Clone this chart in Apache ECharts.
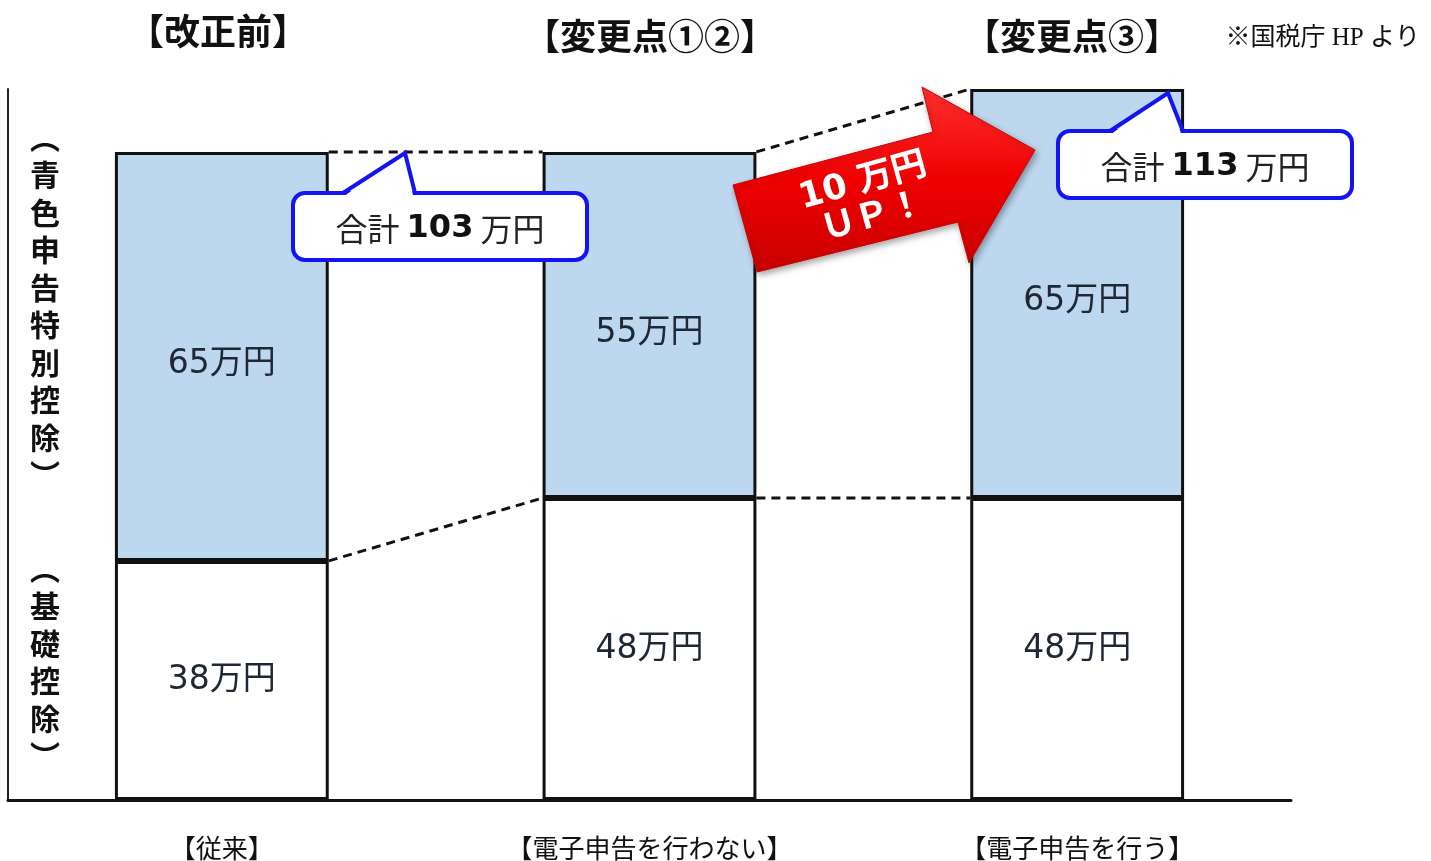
<!DOCTYPE html>
<html>
<head>
<meta charset="utf-8">
<script src="https://cdn.jsdelivr.net/npm/echarts@6/dist/echarts.min.js"></script>
<style>
html, body { margin: 0; padding: 0; background: #fff; }
#main { width: 1431px; height: 861px; }
</style>
</head>
<body>
<div id="main"></div>
<script>
var categories = ['【従来】', '【電子申告を行わない】', '【電子申告を行う】'];
var headings = ['【改正前】', '【変更点①②】', '【変更点③】'];
var basicDeduction = [38, 48, 48];   // 基礎控除
var blueDeduction = [65, 55, 65];    // 青色申告特別控除
var totals = basicDeduction.map(function (v, i) { return v + blueDeduction[i]; });

var numFont = "'DejaVu Sans', 'Noto Sans CJK JP', sans-serif";
var jpFont = "'Noto Sans CJK JP', sans-serif";

function dashed(points) {
    return {
        type: 'line',
        xAxisIndex: 1,
        data: points,
        symbol: 'none',
        silent: true,
        z: 1,
        lineStyle: { color: '#111', width: 3, type: [9, 6] }
    };
}

var connectors = [];
for (var i = 0; i < categories.length - 1; i++) {
    connectors.push(dashed([[i + 0.25, basicDeduction[i]], [i + 0.75, basicDeduction[i + 1]]]));
    connectors.push(dashed([[i + 0.25, totals[i]], [i + 0.75, totals[i + 1]]]));
}

// speech bubble: rounded box + tail pointing at the bar top
function callout(x0, y0, x1, y1, t0, tip, t1, total) {
    return [{
        type: 'rect',
        z: 100,
        shape: { x: x0, y: y0, width: x1 - x0, height: y1 - y0, r: 12 },
        style: { fill: '#fff', stroke: '#1414f0', lineWidth: 4 }
    }, {
        type: 'polygon',
        z: 101,
        shape: { points: [[t0 + 2, y0 + 2.5], tip, [t1 - 2, y0 + 2.5]] },
        style: { fill: '#fff' }
    }, {
        type: 'polyline',
        z: 102,
        shape: { points: [[t0, y0], tip, [t1, y0]] },
        style: { fill: null, stroke: '#1414f0', lineWidth: 4, lineJoin: 'miter' }
    }, {
        type: 'text',
        z: 103,
        x: (x0 + x1) / 2,
        y: (y0 + y1) / 2 + 2,
        style: {
            text: '{n|合計 }{b|' + total + '}{n| 万円}',
            textAlign: 'center',
            textVerticalAlign: 'middle',
            fill: '#222',
            rich: {
                n: { fontSize: 32, fontFamily: jpFont, fill: '#222' },
                b: { fontSize: 32, fontFamily: numFont, fontWeight: 'bold', fill: '#111' }
            }
        }
    }];
}

var graphics = [];
var headX = [218, 650, 1072];
headings.forEach(function (h, i) {
    graphics.push({
        type: 'text', x: headX[i], y: i === 0 ? 31 : 36, z: 100,
        style: { text: h, font: "bold 36px " + jpFont, fill: '#111', textAlign: 'center', textVerticalAlign: 'middle' }
    });
});
graphics.push({
    type: 'text', x: 1420, y: 38, z: 100,
    style: { text: '※国税庁 HP より', font: "25px 'Liberation Serif', 'Noto Sans CJK JP', serif", fill: '#111', textAlign: 'right', textVerticalAlign: 'middle' }
});
graphics.push({
    type: 'text', x: 45, y: 306, z: 100,
    style: { text: '︵\n青\n色\n申\n告\n特\n別\n控\n除\n︶', font: "bold 30px " + jpFont, lineHeight: 37.5, fill: '#111', textAlign: 'center', textVerticalAlign: 'middle' }
});
graphics.push({
    type: 'text', x: 45, y: 662, z: 100,
    style: { text: '︵\n基\n礎\n控\n除\n︶', font: "bold 30px " + jpFont, lineHeight: 37.5, fill: '#111', textAlign: 'center', textVerticalAlign: 'middle' }
});

// red arrow
graphics.push({
    type: 'polygon',
    z: 90,
    shape: { points: [[733, 185], [933, 132], [922, 87], [1035, 150], [969, 263], [958, 222], [757, 272]] },
    style: {
        fill: new echarts.graphic.LinearGradient(0, 0, 0, 1, [
            { offset: 0, color: '#ff3030' },
            { offset: 0.5, color: '#f00000' },
            { offset: 1, color: '#c80000' }
        ]),
        stroke: '#d00000',
        lineWidth: 1,
        shadowBlur: 6,
        shadowColor: 'rgba(0,0,0,0.35)',
        shadowOffsetX: 2,
        shadowOffsetY: 3
    }
});
graphics.push({
    type: 'text', x: 868, y: 200, z: 95, rotation: 0.27,
    style: { text: '10 万円\nＵＰ！', font: "bold 35px " + numFont, lineHeight: 37, fill: '#fff', textAlign: 'center', textVerticalAlign: 'middle' }
});

graphics = graphics.concat(callout(293, 193, 587, 260, 343, [405, 153], 415, totals[0]));
graphics = graphics.concat(callout(1058, 131, 1352, 198, 1110, [1168, 93], 1183, totals[2]));

var myChart = echarts.init(document.getElementById('main'));
var option = {
    backgroundColor: '#fff',
    animation: false,
    grid: { left: 8, right: 140, top: 89, bottom: 61, outerBoundsMode: 'none' },
    xAxis: [
        {
            type: 'category',
            data: categories,
            axisLine: { lineStyle: { color: '#111', width: 3 } },
            axisTick: { show: false },
            axisLabel: { fontSize: 26, fontFamily: jpFont, color: '#111', margin: 35 }
        },
        { type: 'value', min: -0.5, max: 2.5, show: false }
    ],
    yAxis: {
        type: 'value',
        min: 0,
        max: 113,
        axisLine: { show: true, onZero: false, lineStyle: { color: '#222', width: 2 } },
        axisTick: { show: false },
        axisLabel: { show: false },
        splitLine: { show: false }
    },
    series: [
        {
            name: '基礎控除',
            type: 'bar',
            stack: 'total',
            barWidth: '50%',
            data: basicDeduction,
            z: 2,
            itemStyle: { color: '#ffffff', borderColor: '#111', borderWidth: 3 },
            label: { show: true, position: 'inside', formatter: '{c}万円', fontSize: 33, fontFamily: numFont, color: '#1e2733' }
        },
        {
            name: '青色申告特別控除',
            type: 'bar',
            stack: 'total',
            barWidth: '50%',
            data: blueDeduction,
            z: 2,
            itemStyle: { color: '#bdd7ee', borderColor: '#111', borderWidth: 3 },
            label: { show: true, position: 'inside', formatter: '{c}万円', fontSize: 33, fontFamily: numFont, color: '#1e2733', offset: [0, 8] }
        }
    ].concat(connectors),
    graphic: { elements: graphics }
};
myChart.setOption(option);

window.onresize = function () {
    myChart.resize();
};
</script>
</body>
</html>
